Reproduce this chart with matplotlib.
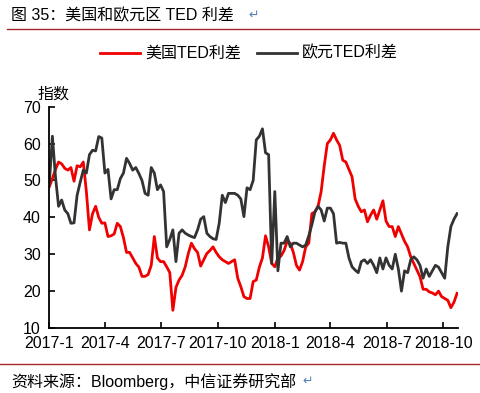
import pandas as pd
import matplotlib
matplotlib.use("Agg")
from matplotlib import pyplot as plt
from matplotlib.lines import Line2D

plt.rcParams['font.family'] = ['Liberation Sans', 'Noto Sans CJK SC', 'DejaVu Sans']

# 5-day sampling from 2017-01-01
start_date = "2017-01-01"

us_ted = [48.3, 50.5, 53, 55, 54.5, 53.3, 52.8, 53.5, 49.8, 54,
          53.7, 55, 47, 36.6, 41, 43, 40, 38.4, 38.5, 34.8,
          35, 35.5, 38.4, 37.5, 34.5, 30.5, 30.5, 29, 27.5, 26.5,
          24, 24, 24.5, 27, 34.8, 29, 28, 28, 26.6, 25,
          14.8, 21, 23, 24.3, 26.6, 30.2, 33, 31.5, 30.5, 26.8,
          28.5, 30.2, 31, 32, 30.5, 29.3, 28.5, 28, 27.5, 28,
          28.5, 23.5, 21.2, 18.5, 18, 18, 22.6, 23, 26.5, 29,
          35, 32, 27.5, 26.6, 29, 29.5, 31, 33.5, 33, 30.5,
          27, 25.7, 28, 32, 33, 41, 41.5, 43, 47, 54,
          60, 61, 62.8, 61, 59.5, 55.5, 55, 53, 51, 45,
          43, 41.5, 42, 38.8, 40.6, 42, 39.5, 42, 44.5, 39,
          37.5, 37.5, 34.8, 37.5, 35.5, 33.5, 32, 29.3, 27.5, 25.7,
          23.9, 20.5, 20.5, 19.8, 19.5, 19, 20, 18.5, 18, 17.5,
          15.5, 17, 19.4]

eu_ted = [49, 62, 51, 43, 44.7, 42, 41, 38.4, 38.5, 46,
          49.5, 52.8, 52, 57, 58.2, 58, 61.9, 61.5, 52, 53,
          45, 47.5, 47.5, 50.5, 52, 56, 54.6, 52.8, 53.5, 51.9,
          50, 46.5, 46, 53.5, 52, 47.5, 48.8, 47, 32, 34,
          36.6, 28, 35.7, 36.6, 35.7, 35.2, 34.8, 34.5, 36.6, 39.5,
          40.2, 35.7, 34.8, 34.2, 34, 38.4, 46, 44, 46.5, 46.5,
          46.5, 46, 45, 40.2, 48, 47.5, 50, 61, 62, 64,
          57.5, 57, 27.5, 47, 25.5, 33, 33, 34.8, 32, 33,
          33, 32.5, 32, 32.5, 35, 38, 41.5, 43, 42, 39,
          42.5, 42.5, 41, 33, 33.2, 33, 33, 29, 26.6, 25.7,
          25, 28, 28.5, 27.5, 28.5, 27, 25, 29, 26, 29,
          27, 26, 30, 26, 20, 25.5, 25, 28.5, 29.3, 28.5,
          27, 23.5, 26, 24, 25.5, 27, 26.5, 25, 23.5, 32,
          37.5, 39.5, 41]

tick_dates = ["2017-01-01", "2017-04-01", "2017-07-01", "2017-10-01",
              "2018-01-01", "2018-04-01", "2018-07-01", "2018-10-01"]
tick_labels = ["2017-1", "2017-4", "2017-7", "2017-10",
               "2018-1", "2018-4", "2018-7", "2018-10"]
y_ticks = [10, 20, 30, 40, 50, 60, 70]

dates = pd.date_range(start_date, periods=len(us_ted), freq="5D")

red = "#f00000"
dark = "#333333"
rule = "#a8262b"
W, H = 481, 393

fig = plt.figure(figsize=(W / 100, H / 100), dpi=100)
ax = fig.add_axes([49.3 / W, 1 - 328 / H, 409 / W, 221.3 / H])

ax.plot(dates, us_ted, color=red, lw=2.0)
ax.plot(dates, eu_ted, color=dark, lw=2.0)

ax.set_xlim(pd.Timestamp(start_date), pd.Timestamp("2018-10-25"))
ax.set_ylim(10, 70)
ax.set_yticks(y_ticks)
ax.set_xticks(pd.to_datetime(tick_dates))
ax.set_xticklabels(tick_labels)
ax.tick_params(direction="in", length=4, width=1.2, labelsize=11.5, colors="black")
ax.tick_params(axis="x", pad=6)
ax.tick_params(axis="y", pad=6)
for s in ["top", "right"]:
    ax.spines[s].set_visible(False)
for s in ["left", "bottom"]:
    ax.spines[s].set_linewidth(1.3)

# title and rules
fig.text(11 / W, 1 - 16 / H, "图 35：美国和欧元区 TED 利差", fontsize=11.5, va="center", ha="left")
fig.text(248 / W, 1 - 16 / H, "↵", fontsize=9, va="center", ha="left", color="#4f81bd")
fig.add_artist(Line2D([7 / W, 1], [1 - 29 / H, 1 - 29 / H], color=rule, lw=1.0))

# legend
ly = 1 - 53 / H
fig.add_artist(Line2D([100 / W, 140 / W], [ly, ly], color=red, lw=2.0))
fig.text(145 / W, ly, "美国TED利差", fontsize=11.5, va="center", ha="left")
fig.add_artist(Line2D([257 / W, 297 / W], [ly, ly], color=dark, lw=2.0))
fig.text(302 / W, ly, "欧元TED利差", fontsize=11.5, va="center", ha="left")

fig.text(37 / W, 1 - 94 / H, "指数", fontsize=11.5, va="center", ha="left")

# source
fig.add_artist(Line2D([0, 1], [1 - 364 / H, 1 - 364 / H], color=rule, lw=1.0))
fig.text(11 / W, 1 - 382 / H, "资料来源：Bloomberg，中信证券研究部", fontsize=11.5, va="center", ha="left")
fig.text(302 / W, 1 - 382 / H, "↵", fontsize=9, va="center", ha="left", color="#4f81bd")

fig.savefig("out.png", dpi=100)
